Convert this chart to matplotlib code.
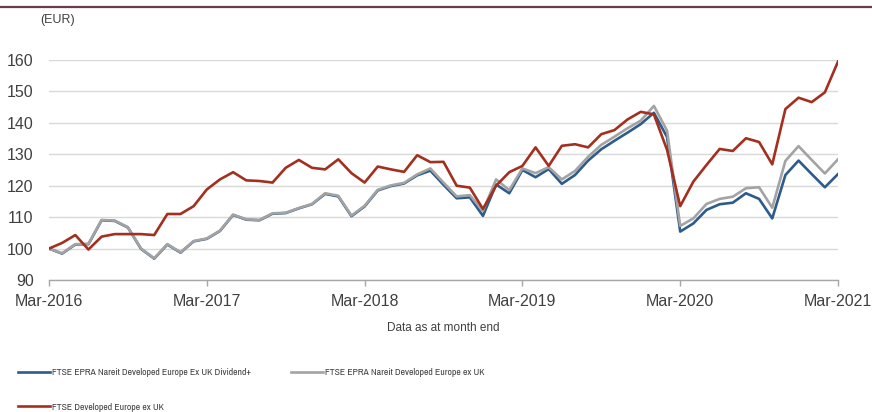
import matplotlib
matplotlib.use("Agg")
import matplotlib.pyplot as plt
from matplotlib.lines import Line2D
from matplotlib import font_manager

plt.rcParams['font.family'] = ['Liberation Sans', 'DejaVu Sans']

# ---- data -------------------------------------------------------------
tick_labels = ["Mar-2016", "Mar-2017", "Mar-2018", "Mar-2019", "Mar-2020", "Mar-2021"]

series_names = [
    "FTSE EPRA Nareit Developed Europe Ex UK Dividend+",
    "FTSE EPRA Nareit Developed Europe ex UK",
    "FTSE Developed Europe ex UK",
]

dividend_plus = [100, 98.4, 101.3, 101.4, 109.0, 108.8, 106.7, 99.9, 96.8, 101.3,
                 98.7, 102.3, 103.1, 105.6, 110.7, 109.2, 109.0, 111.1, 111.3, 112.8,
                 114.1, 117.4, 116.6, 110.3, 113.4, 118.5, 119.9, 120.7, 123.3, 124.8,
                 120.3, 116.0, 116.3, 110.4, 120.4, 117.6, 125.0, 122.7, 125.3, 120.6,
                 123.4, 128.0, 131.6, 134.3, 136.9, 139.6, 143.2, 135.5, 105.4, 108.0,
                 112.3, 114.1, 114.6, 117.6, 115.8, 109.6, 123.4, 128.0, 123.7, 119.5, 123.7]

epra_ex_uk = [100, 98.5, 101.4, 101.5, 109.1, 108.9, 106.8, 100.0, 96.9, 101.4,
              98.8, 102.4, 103.2, 105.7, 110.8, 109.3, 109.1, 111.2, 111.4, 112.9,
              114.2, 117.6, 116.8, 110.5, 113.6, 118.7, 120.1, 120.9, 123.6, 125.5,
              121.0, 116.6, 117.0, 112.0, 122.0, 118.6, 125.5, 124.0, 125.9, 122.0,
              124.7, 129.2, 133.0, 135.6, 138.3, 140.7, 145.4, 137.5, 107.2, 109.6,
              114.2, 115.8, 116.5, 119.2, 119.5, 113.0, 127.9, 132.6, 128.2, 123.9, 128.4]

developed_ex_uk = [100, 101.8, 104.3, 99.7, 103.8, 104.6, 104.6, 104.6, 104.3, 111.0,
                   111.0, 113.5, 118.8, 122.0, 124.3, 121.7, 121.5, 121.0, 125.7, 128.2,
                   125.7, 125.2, 128.4, 124.0, 121.0, 126.1, 125.2, 124.4, 129.7, 127.5,
                   127.6, 120.0, 119.4, 112.6, 120.0, 124.3, 126.3, 132.2, 126.3, 132.7,
                   133.2, 132.2, 136.4, 137.7, 141.1, 143.5, 142.7, 131.4, 113.5, 121.3,
                   126.6, 131.7, 131.05, 135.1, 133.9, 126.8, 144.4, 148.0, 146.6, 149.7, 159.5]

months = list(range(len(developed_ex_uk)))

# ---- figure -----------------------------------------------------------
W, H = 872, 412
fig = plt.figure(figsize=(W / 100, H / 100), dpi=100)
ax = fig.add_axes([49 / W, 1 - 280 / H, (838 - 49) / W, (280 - 60) / H])

c_blue, c_grey, c_red = "#2d5b8c", "#a3a3a3", "#a3301f"
lw = 1.9
l1, = ax.plot(months, dividend_plus, color=c_blue, lw=lw, label=series_names[0])
l2, = ax.plot(months, epra_ex_uk, color=c_grey, lw=lw, label=series_names[1])
l3, = ax.plot(months, developed_ex_uk, color=c_red, lw=lw, label=series_names[2])

ax.set_xlim(0, 60)
ax.set_ylim(90, 160)
ax.set_yticks(range(90, 161, 10))
ax.set_xticks(range(0, 61, 12))
ax.set_xticklabels(tick_labels)

ax.grid(axis='y', color="#d9d9d9", lw=1.0)
ax.set_axisbelow(True)
for s in ("top", "right", "left"):
    ax.spines[s].set_visible(False)
ax.spines["bottom"].set_color("#a6a6a6")
ax.spines["bottom"].set_linewidth(1.0)

ax.tick_params(axis='y', length=0, pad=11, labelsize=11.5, labelcolor="#404040")
ax.tick_params(axis='x', length=4, width=1.0, color="#a6a6a6", pad=6,
               labelsize=11.5, labelcolor="#404040", direction='out')

fig.text(40 / W, 1 - 20 / H, "(EUR)", fontsize=9, color="#404040", va='center', ha='left')
fig.text(443 / W, 1 - 328 / H, "Data as at month end", fontsize=8.5, color="#404040",
         va='center', ha='center')

# top rule
fig.add_artist(Line2D([0, 1], [1 - 7 / H, 1 - 7 / H], transform=fig.transFigure,
                      color="#6b3a4c", lw=1.6))

# ---- legend: narrow sans if available, sized to the reference label width ----
names = {f.name for f in font_manager.fontManager.ttflist}
renderer = fig.canvas.get_renderer()


def width_at10(fam):
    p = fig.text(0, 0, series_names[0], family=fam, fontsize=10)
    w = p.get_window_extent(renderer).width
    p.remove()
    return w


w_base = width_at10('Liberation Sans')
candidates = ['Liberation Sans Narrow', 'Arial Narrow', 'Nimbus Sans Narrow',
              'Archivo Narrow', 'Roboto Condensed', 'IBM Plex Sans Condensed',
              'Fira Sans Condensed', 'PT Sans Narrow', 'Encode Sans Condensed',
              'Asap Condensed', 'Open Sans Condensed']
leg_family, w10 = 'Liberation Sans', w_base
for c in candidates:
    if c in names:
        w = width_at10(c)
        if w < 0.9 * w_base:
            leg_family, w10 = c, w
            break

target_w = 199.0 if leg_family != 'Liberation Sans' else 214.0
leg_size = 10 * target_w / w10
spx = leg_size * 100 / 72.0  # font size in pixels
text_end = 52 + target_w
gap = max(290 - text_end, 12)

leg = fig.legend([l1, l3, l2], [series_names[0], series_names[2], series_names[1]],
                 ncol=2, loc='center left', bbox_to_anchor=(18 / W, 1 - 390 / H),
                 frameon=False, prop={'family': leg_family, 'size': leg_size},
                 handlelength=32 / spx, handletextpad=2.5 / spx,
                 columnspacing=gap / spx, labelspacing=34 / spx - 0.9,
                 borderaxespad=0, borderpad=0)
for t in leg.get_texts():
    t.set_color("#404040")

fig.savefig("out.png", dpi=100)
